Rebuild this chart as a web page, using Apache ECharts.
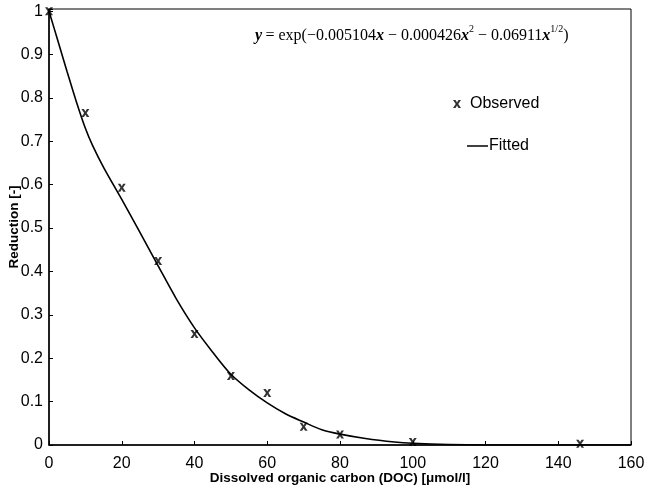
<!DOCTYPE html>
<html>
<head>
<meta charset="utf-8">
<script src="https://cdn.jsdelivr.net/npm/echarts@6/dist/echarts.min.js"></script>
<style>html,body{margin:0;padding:0;background:#fff}#c{width:646px;height:491px}</style>
</head>
<body>
<div id="c"></div>
<script>
// Observed data
const obsX = [0, 10, 20, 30, 40, 50, 60, 70, 80, 100, 146];
const obsY = [1.0, 0.765, 0.593, 0.424, 0.256, 0.159, 0.12, 0.042, 0.024, 0.007, 0.003];
// Fitted curve
const fitX = [0, 2.5, 5, 7.5, 10, 12, 15, 20, 25, 30, 35, 40, 45, 50, 55, 60, 65, 70, 75, 80, 87, 95, 100, 110, 120, 140, 160];
const fitY = [1.0, 0.93, 0.86, 0.792, 0.73, 0.69, 0.64, 0.566, 0.49, 0.413, 0.337, 0.27, 0.214, 0.163, 0.127, 0.097, 0.072, 0.053, 0.035, 0.025, 0.015, 0.007, 0.004, 0.001, 0, 0, 0];
const xTicks = [0, 20, 40, 60, 80, 100, 120, 140, 160];
const yTicks = ['0', '0.1', '0.2', '0.3', '0.4', '0.5', '0.6', '0.7', '0.8', '0.9', '1'];
const xTitle = 'Dissolved organic carbon (DOC) [\u03bcmol/l]';
const yTitle = 'Reduction [-]';

const xMark = 'path://M0,0 H3.2 L5,3 L6.8,0 H10 L6.6,5 L10,10 H6.8 L5,7 L3.2,10 H0 L3.4,5 Z';
const font = 'Liberation Sans, Arial, sans-serif';
const serif = 'Liberation Serif, Times New Roman, serif';

const chart = echarts.init(document.getElementById('c'));
chart.setOption({
  animation: false,
  backgroundColor: '#fff',
  grid: { left: 49, right: 15, top: 9, bottom: 46, outerBoundsMode: 'none', containLabel: false,
    show: true, borderColor: '#000', borderWidth: 1, backgroundColor: 'transparent' },
  xAxis: {
    type: 'value', min: 0, max: 160, interval: 20,
    axisLine: { lineStyle: { color: '#000', width: 1.5 } },
    axisTick: { inside: true, length: 4, lineStyle: { color: '#000' } },
    splitLine: { show: false },
    axisLabel: { color: '#000', fontSize: 16, fontFamily: font, margin: 11,
      formatter: v => xTicks.indexOf(v) >= 0 ? String(v) : '' }
  },
  yAxis: {
    type: 'value', min: 0, max: 1.005, interval: 0.1,
    axisLine: { lineStyle: { color: '#000', width: 1.5 } },
    axisTick: { inside: true, length: 4, lineStyle: { color: '#000' } },
    splitLine: { show: false },
    axisLabel: { color: '#000', fontSize: 16, fontFamily: font, margin: 6,
      formatter: v => { const s = String(Math.round(v * 10) / 10); return (Math.abs(v * 10 - Math.round(v * 10)) < 1e-6 && yTicks.indexOf(s) >= 0) ? s : ''; } }
  },
  legend: [
    { data: [{ name: 'Observed', icon: xMark }], left: 448, top: 91, itemWidth: 20, itemHeight: 8, itemGap: 0,
      textStyle: { color: '#000', fontSize: 16, fontFamily: font, padding: [0, 0, 0, -2] } },
    { data: [{ name: 'Fitted', icon: 'rect' }], left: 462, top: 133, itemWidth: 21, itemHeight: 1.5,
      textStyle: { color: '#000', fontSize: 16, fontFamily: font, padding: [0, 0, 0, -4] } }
  ],
  graphic: [
    {
      type: 'text', left: 255, top: 24,
      style: {
        text: '{i|y} {n|= exp(\u22120.005104}{i|x}{n| \u2212 0.000426}{i|x}{s|2}{n| \u2212 0.06911}{i|x}{s|1/2}{n|)}',
        rich: {
          n: { fontFamily: serif, fontSize: 16, fill: '#000', lineHeight: 20, verticalAlign: 'bottom' },
          i: { fontFamily: serif, fontSize: 16, fontStyle: 'italic', fontWeight: 'bold', fill: '#000', lineHeight: 20, verticalAlign: 'bottom' },
          s: { fontFamily: serif, fontSize: 10, fill: '#000', lineHeight: 20, verticalAlign: 'top' }
        }
      }
    },
    {
      type: 'text', x: 340, y: 478,
      style: { text: xTitle, fill: '#000', font: 'bold 13.5px ' + font, textAlign: 'center', textVerticalAlign: 'middle' }
    },
    {
      type: 'text', x: 14, y: 227, rotation: Math.PI / 2,
      style: { text: yTitle, fill: '#000', font: 'bold 13.5px ' + font, textAlign: 'center', textVerticalAlign: 'middle' }
    }
  ],
  series: [
    {
      name: 'Observed', type: 'scatter', symbol: xMark, symbolSize: [8, 8],
      itemStyle: { color: '#000' },
      data: obsX.map((x, i) => [x, obsY[i]]), z: 3
    },
    {
      name: 'Fitted', type: 'line', symbol: 'none', smooth: 0.3,
      lineStyle: { color: '#000', width: 1.6 }, itemStyle: { color: '#000' },
      data: fitX.map((x, i) => [x, fitY[i]])
    }
  ]
});
</script>
</body>
</html>
